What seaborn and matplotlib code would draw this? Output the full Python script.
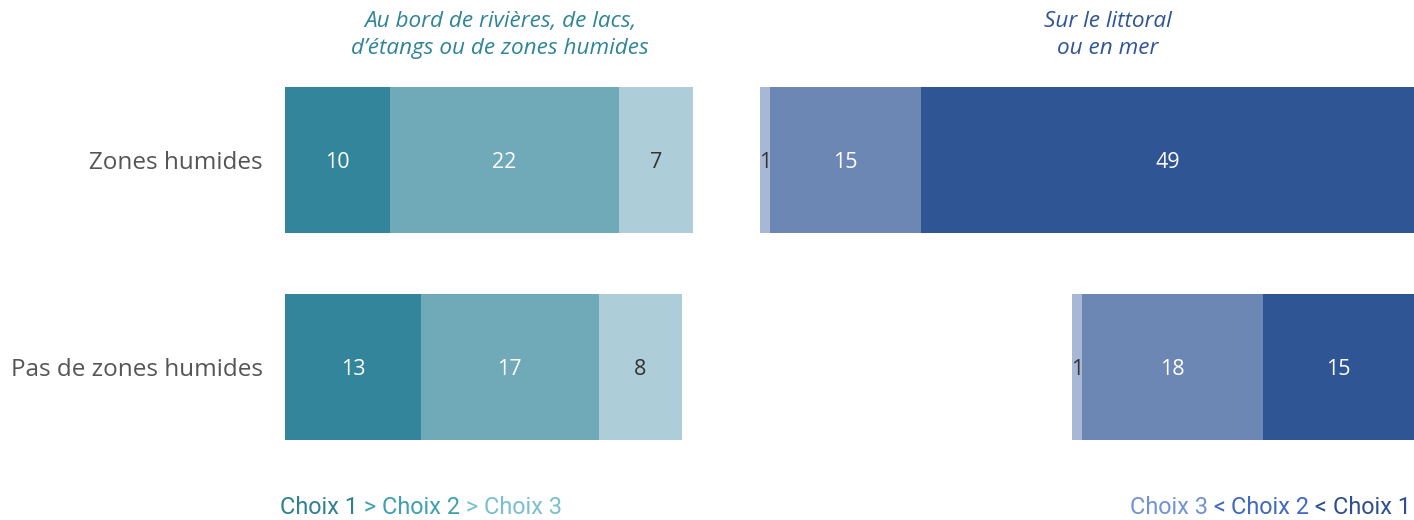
import matplotlib
matplotlib.use("Agg")
import matplotlib.pyplot as plt
import seaborn as sns
import numpy as np
import pandas as pd

# ---- data ----
categories = ["Zones humides", "Pas de zones humides"]
bord_choix1 = [10, 13]
bord_choix2 = [22, 17]
bord_choix3 = [7, 8]
mer_choix1 = [49, 15]
mer_choix2 = [15, 18]
mer_choix3 = [1, 1]
title_bord = "Au bord de rivières, de lacs,\nd’étangs ou de zones humides"
title_mer = "Sur le littoral\nou en mer"

# ---- style ----
sns.set_theme(style="white")
main_font = ["Open Sans", "DejaVu Sans"]
plt.rcParams['font.family'] = main_font

teal = ["#32859A", "#70AAB8", "#ADCED8"]
blue = ["#2F5594", "#6D87B5", "#A7B7D6"]
teal_leg = ["#2E8093", "#3FA0B3", "#79C0CF"]
blue_leg = ["#2E4F8F", "#4069BF", "#7193D4"]
label_gray = "#555555"

W, H = 1414, 520
fig = plt.figure(figsize=(W / 100, H / 100), dpi=100)

ax_top, ax_bot = 56.5, 470.5
axb = (1 - ax_bot / H)
axh = (ax_bot - ax_top) / H

# left axis
lx0, lscale, lmax = 285, 10.45, 42
axL = fig.add_axes([lx0 / W, axb, lmax * lscale / W, axh])
# right axis (inverted)
rscale, rmax = 10.06, 66
rw = rmax * rscale
axR = fig.add_axes([(W - rw) / W, axb, rw / W, axh])

def stacked(ax, vals, colors):
    cum = np.cumsum(np.array(vals), axis=0)
    for i in range(len(vals) - 1, -1, -1):
        df = pd.DataFrame({"cat": categories, "v": cum[i]})
        sns.barplot(data=df, x="v", y="cat", orient="h", color=colors[i],
                    saturation=1, width=0.71, linewidth=0, ax=ax, order=categories)
    return cum

bord = [bord_choix1, bord_choix2, bord_choix3]
mer = [mer_choix1, mer_choix2, mer_choix3]
cumL = stacked(axL, bord, teal)
cumR = stacked(axR, mer, blue)

txt_colors = ["white", "white", "#333333"]
for ax, vals, cum in ((axL, bord, cumL), (axR, mer, cumR)):
    for i in range(len(vals)):
        for j in range(len(categories)):
            start = cum[i][j] - vals[i][j]
            ax.text(start + vals[i][j] / 2, j, f"{vals[i][j]}", ha="center",
                    va="center_baseline", fontsize=15.5, color=txt_colors[i],
                    family=main_font)

axL.set_xlim(0, lmax)
axR.set_xlim(rmax, 0)
for ax in (axL, axR):
    ax.set_ylim(1.5, -0.5)
    ax.set_xlabel("")
    ax.set_ylabel("")
    ax.set_xticks([])
    sns.despine(ax=ax, left=True, bottom=True)
    ax.patch.set_alpha(0)
axR.set_yticks([])
axL.tick_params(axis="y", length=0, pad=16, labelsize=17.5, labelcolor=label_gray)

# titles
fig.text(500 / W, 1 - 35 / H, title_bord, ha="center", va="center", fontsize=16.2,
         style="italic", color="#2F8597", linespacing=1.4)
fig.text(1108 / W, 1 - 35 / H, title_mer, ha="center", va="center", fontsize=16.2,
         style="italic", color="#2F5596", linespacing=1.4)

# legends with multicolored text
fig.canvas.draw()
renderer = fig.canvas.get_renderer()
leg_font = ["Roboto", "DejaVu Sans"]
leg_size = 16.9
ly = 1 - 508 / H

def place_seq(pieces, x_start_px, direction):
    x = x_start_px
    for text, col in pieces:
        ha = "left" if direction > 0 else "right"
        t = fig.text(x / W, ly, text, ha=ha, va="center", fontsize=leg_size,
                     color=col, family=leg_font)
        bb = t.get_window_extent(renderer=renderer)
        x += direction * bb.width

left_pieces = [("Choix 1", teal_leg[0]), (" > ", teal_leg[1]), ("Choix 2", teal_leg[1]),
               (" > ", teal_leg[2]), ("Choix 3", teal_leg[2])]
place_seq(left_pieces, 280, +1)
right_pieces = [("Choix 1", blue_leg[0]), (" < ", blue_leg[0]), ("Choix 2", blue_leg[1]),
                (" < ", blue_leg[1]), ("Choix 3", blue_leg[2])]
place_seq(right_pieces, 1411, -1)

fig.savefig("out.png", dpi=100)
